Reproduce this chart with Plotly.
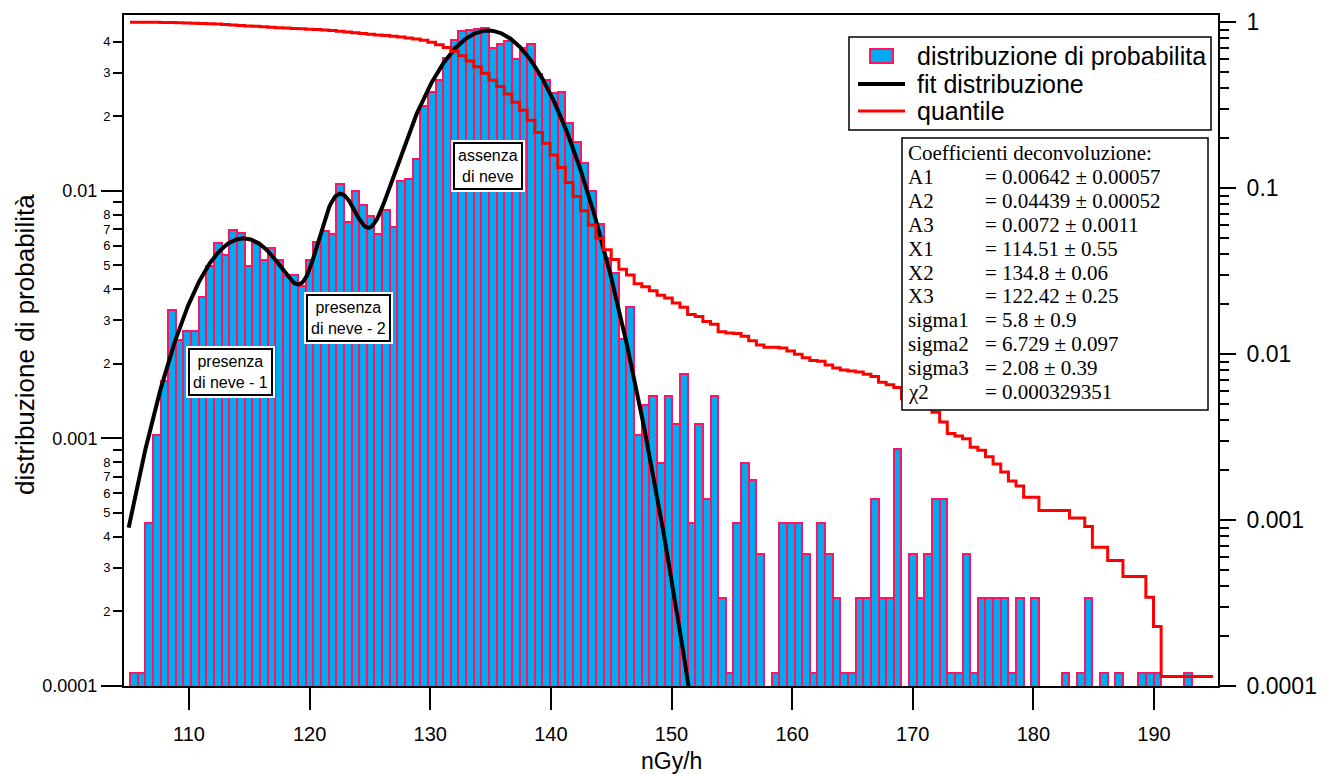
import numpy as np
import plotly.graph_objects as go

# ---------------- data ----------------
bin_start = 105.11          # left edge of the first histogram bin (nGy/h)
bin_width = 0.6332          # histogram bin width (nGy/h)
prob = [
    0.000113, 0.000113, 0.000454, 0.00103, 0.00170, 0.00329, 0.00250, 0.00272, 0.00272, 0.00374,
    0.00499, 0.00615, 0.00549, 0.00695, 0.00673, 0.00499, 0.00615, 0.00524, 0.00587, 0.00524,
    0.00454, 0.00456, 0.00411, 0.00524, 0.00623, 0.00689, 0.00667, 0.0107, 0.00746, 0.00998,
    0.00877, 0.00794, 0.00667, 0.00839, 0.00714, 0.0110, 0.0112, 0.0135, 0.0220, 0.0250,
    0.0280, 0.0343, 0.0405, 0.0440, 0.0445, 0.0451, 0.0454, 0.0379, 0.0390, 0.0403,
    0.0340, 0.0379, 0.0393, 0.0297, 0.0280, 0.0248, 0.0250, 0.0188, 0.0158, 0.0130,
    0.00998, 0.00731, 0.00534, 0.00464, 0.00253, 0.00340, 0.00103, 0.00136, 0.00148, 0.000793,
    0.00148, 0.00114, 0.00182, 0.000454, 0.00114, 0.000567, 0.00148, 0.000227, 0.000113, 0.000454,
    0.000793, 0.000681, 0.000340, 0, 0.000113, 0.000454, 0.000454, 0.000454, 0.000340, 0.000113,
    0.000454, 0.000340, 0.000227, 0.000113, 0.000113, 0.000227, 0.000227, 0.000567, 0.000227, 0.000227,
    0.000907, 0, 0.000340, 0.000227, 0.000340, 0.000567, 0.000567, 0.000113, 0.000113, 0.000340,
    0.000113, 0.000227, 0.000227, 0.000227, 0.000227, 0.000113, 0.000227, 0, 0.000227, 0,
    0, 0, 0.000113, 0, 0.000113, 0.000227, 0, 0.000113, 0, 0.000113,
    0, 0, 0.000113, 0.000113, 0.000113, 0, 0, 0, 0.000113,
]
quantile_end = 194.9        # x where the quantile line stops

# fit coefficients (three gaussians, A*exp(-((x-X)/sigma)^2))
fit_A = [0.00642, 0.04439, 0.0072]
fit_X = [114.51, 134.8, 122.42]
fit_sigma = [5.8, 6.729, 2.08]
fit_x_start, fit_x_stop = 105.0, 152.0

coef_title = "Coefficienti deconvoluzione:"
coef_names = ["A1", "A2", "A3", "X1", "X2", "X3", "sigma1", "sigma2", "sigma3", "χ2"]
coef_values = ["0.00642 ± 0.00057", "0.04439 ± 0.00052", "0.0072 ± 0.0011",
               "114.51 ± 0.55", "134.8 ± 0.06", "122.42 ± 0.25",
               "5.8 ± 0.9", "6.729 ± 0.097", "2.08 ± 0.39", "0.000329351"]

legend_names = ["distribuzione di probabilita", "fit distribuzione", "quantile"]

x_tick_vals = [110, 120, 130, 140, 150, 160, 170, 180, 190]
left_decades = [0.0001, 0.001, 0.01]
left_decade_text = ["0.0001", "0.001", "0.01"]
right_decades = [0.0001, 0.001, 0.01, 0.1, 1]
right_decade_text = ["0.0001", "0.001", "0.01", "0.1", "1"]

region_labels = ["presenza<br>di neve - 1", "presenza<br>di neve - 2", "assenza<br>di neve"]
region_x = [113.4, 123.26, 134.75]
region_y = [0.00185, 0.00306, 0.01254]

# ---------------- derived ----------------
n = len(prob)
edges = bin_start + bin_width * np.arange(n)
centers = edges + bin_width / 2
bar_y = [p if p > 0 else None for p in prob]

p = np.array(prob)
tail = np.cumsum(p[::-1])[::-1] / p.sum()
q_x = list(edges) + [quantile_end]
q_y = list(tail) + [tail[-1]]

xf = np.linspace(fit_x_start, fit_x_stop, 600)
yf = np.zeros_like(xf)
for A, X, s in zip(fit_A, fit_X, fit_sigma):
    yf += A * np.exp(-((xf - X) / s) ** 2)

LEFT_RANGE = [-4.0, -1.29]
RIGHT_RANGE = [-4.0, 0.044]

left_minor_vals, left_minor_text = [], []
for d in left_decades:
    for m in range(2, 10):
        v = m * d
        if np.log10(v) < LEFT_RANGE[1] - 0.02:
            left_minor_vals.append(v)
            left_minor_text.append("" if m == 9 else str(m))
right_minor_vals = [m * d for d in right_decades[:-1] for m in range(2, 10)]

SANS = "Liberation Sans, Arial, sans-serif"
SERIF = "Liberation Serif, Times New Roman, serif"
BAR_FILL = "#00a9f0"
BAR_LINE = "#ff1464"

# page offset (html body margin) and figure geometry
OFF = 8
W, H = 1326 - OFF, 774 - OFF
ML, MR, MT, MB = 124 - OFF, 108, 15 - OFF, 88
PW, PH = W - ML - MR, H - MT - MB


def px(page_x):
    return (page_x - OFF - ML) / PW


def py(page_y):
    return (H - MB - (page_y - OFF)) / PH


fig = go.Figure()
fig.add_trace(go.Bar(
    x=centers, y=bar_y, width=bin_width,
    marker=dict(color=BAR_FILL, line=dict(color=BAR_LINE, width=2)),
    name=legend_names[0], showlegend=False,
))
fig.add_trace(go.Scatter(
    x=xf, y=yf, mode="lines", line=dict(color="black", width=4),
    name=legend_names[1], showlegend=False,
))
fig.add_trace(go.Scatter(
    x=q_x, y=q_y, yaxis="y2", mode="lines",
    line=dict(color="#ff0000", width=3, shape="hv"),
    name=legend_names[2], showlegend=False,
))
fig.add_trace(go.Scatter(x=[None], y=[None], yaxis="y3", showlegend=False, hoverinfo="skip"))

fig.update_layout(
    width=W, height=H,
    margin=dict(l=ML, r=MR, t=MT, b=MB, autoexpand=False),
    paper_bgcolor="white", plot_bgcolor="white",
    bargap=0, showlegend=False,
    font=dict(family=SANS, color="black"),
    xaxis=dict(
        range=[104.611, 195.306], tickvals=x_tick_vals, ticks="outside",
        ticklen=22, tickwidth=2, tickcolor="black", showline=True, linewidth=2,
        linecolor="black", mirror=True, showgrid=False, zeroline=False,
        tickfont=dict(size=20), ticklabelstandoff=7,
    ),
    yaxis=dict(
        type="log", range=LEFT_RANGE, tickvals=left_decades, ticktext=left_decade_text,
        ticks="outside", ticklen=21, tickwidth=1.5, tickcolor="black",
        showline=True, linewidth=2, linecolor="black", showgrid=False, zeroline=False,
        tickfont=dict(size=18),
    ),
    yaxis3=dict(
        type="log", range=LEFT_RANGE, overlaying="y", side="left", anchor="x",
        tickvals=left_minor_vals, ticktext=left_minor_text,
        ticks="outside", ticklen=10, tickwidth=1.5, tickcolor="black",
        showline=False, showgrid=False, zeroline=False, tickfont=dict(size=13),
    ),
    yaxis2=dict(
        type="log", range=RIGHT_RANGE, overlaying="y", side="right", anchor="x",
        tickvals=right_decades, ticktext=right_decade_text,
        ticks="outside", ticklen=16, tickwidth=1.5, tickcolor="black",
        minor=dict(tickvals=right_minor_vals, ticklen=9, tickwidth=1.5, tickcolor="black", ticks="outside"),
        showline=True, linewidth=2, linecolor="black", showgrid=False, zeroline=False,
        tickfont=dict(size=23), ticklabelstandoff=6,
    ),
)

annotations = []
shapes = []
# axis titles
annotations.append(dict(text="nGy/h", x=px(671), y=py(761), xref="paper", yref="paper",
                        showarrow=False, font=dict(size=23), xanchor="center", yanchor="middle"))
annotations.append(dict(text="distribuzione di probabilità", x=px(25), y=py(345), xref="paper",
                        yref="paper", showarrow=False, textangle=-90, font=dict(size=26),
                        xanchor="center", yanchor="middle"))
# region labels with white halo + black frame
for t, xv, yv in zip(region_labels, region_x, region_y):
    annotations.append(dict(text=t, x=xv, y=np.log10(yv), xref="x", yref="y", showarrow=False,
                            font=dict(size=16, color="white"), bgcolor="white",
                            borderpad=7, borderwidth=0))
    annotations.append(dict(text=t, x=xv, y=np.log10(yv), xref="x", yref="y", showarrow=False,
                            font=dict(size=16, color="black"), bgcolor="white",
                            bordercolor="black", borderwidth=2, borderpad=3))

# coefficient box
shapes.append(dict(type="rect", xref="paper", yref="paper",
                   x0=px(902), x1=px(1208), y0=py(410), y1=py(138),
                   line=dict(color="black", width=1.5), fillcolor="white", layer="above"))
ROW0, ROWH = 153, 23.9
annotations.append(dict(text=coef_title, x=px(906), y=py(ROW0), xref="paper", yref="paper",
                        showarrow=False, xanchor="left", yanchor="middle",
                        font=dict(family=SERIF, size=21)))
for i, (nm, val) in enumerate(zip(coef_names, coef_values)):
    yy = py(ROW0 + ROWH * (i + 1))
    annotations.append(dict(text=nm, x=px(906), y=yy, xref="paper", yref="paper",
                            showarrow=False, xanchor="left", yanchor="middle",
                            font=dict(family=SERIF, size=21)))
    annotations.append(dict(text="= " + val, x=px(983), y=yy, xref="paper", yref="paper",
                            showarrow=False, xanchor="left", yanchor="middle",
                            font=dict(family=SERIF, size=21)))

# legend (drawn box)
shapes.append(dict(type="rect", xref="paper", yref="paper",
                   x0=px(849), x1=px(1211), y0=py(130), y1=py(37),
                   line=dict(color="black", width=1.5), fillcolor="white", layer="above"))
shapes.append(dict(type="rect", xref="paper", yref="paper",
                   x0=px(870), x1=px(893), y0=py(63), y1=py(49),
                   line=dict(color=BAR_LINE, width=2), fillcolor=BAR_FILL, layer="above"))
shapes.append(dict(type="line", xref="paper", yref="paper",
                   x0=px(858), x1=px(905), y0=py(84), y1=py(84),
                   line=dict(color="black", width=4), layer="above"))
shapes.append(dict(type="line", xref="paper", yref="paper",
                   x0=px(858), x1=px(905), y0=py(111), y1=py(111),
                   line=dict(color="#ff0000", width=3), layer="above"))
for name, yrow in zip(legend_names, [56, 84, 111]):
    annotations.append(dict(text=name, x=px(915), y=py(yrow), xref="paper", yref="paper",
                            showarrow=False, xanchor="left", yanchor="middle",
                            font=dict(size=25)))

fig.update_layout(annotations=annotations, shapes=shapes)

fig.write_html("out.html")
